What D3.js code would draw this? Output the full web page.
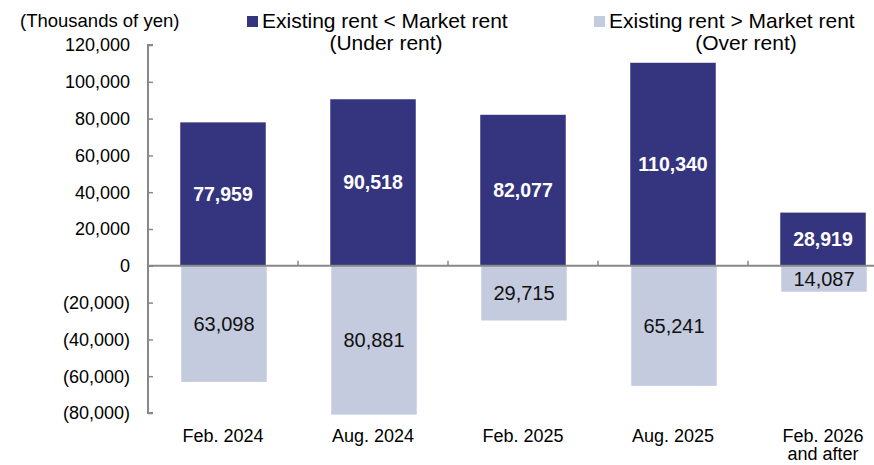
<!DOCTYPE html>
<html>
<head>
<meta charset="utf-8">
<script src="https://cdn.jsdelivr.net/npm/d3@7"></script>
<style>
  body { margin: 0; background: #fff; }
  svg { font-family: "Liberation Sans", Arial, sans-serif; display: block; }
</style>
</head>
<body>
<div id="chart"></div>
<script>
const periods = ["Feb. 2024", "Aug. 2024", "Feb. 2025", "Aug. 2025", "Feb. 2026\nand after"];
const underRent = [77959, 90518, 82077, 110340, 28919];
const overRent = [63098, 80881, 29715, 65241, 14087];
const yTicks = [120000, 100000, 80000, 60000, 40000, 20000, 0, -20000, -40000, -60000, -80000];

const width = 874, height = 465;
const margin = { top: 45, right: -24, bottom: 52, left: 148 };
const darkColor = "#35357f", lightColor = "#c4cbdf";

const svg = d3.select("#chart").append("svg")
  .attr("width", width)
  .attr("height", height);

const x = d3.scaleBand()
  .domain(periods)
  .range([margin.left, width - margin.right])
  .paddingInner(0.43)
  .paddingOuter(0.215);

const y = d3.scaleLinear()
  .domain([-80000, 120000])
  .range([height - margin.bottom, margin.top]);

const fmt = v => v < 0 ? `(${d3.format(",")(-v)})` : d3.format(",")(v);

// y axis
const yAxis = svg.append("g")
  .attr("transform", `translate(${margin.left},0)`)
  .call(d3.axisRight(y).tickValues(yTicks).tickSize(5).tickFormat(""));
yAxis.select(".domain").attr("stroke", "#888").attr("stroke-width", 2).attr("d", `M5,${y(120000)}H0V${y(-80000)}H5`);
yAxis.selectAll(".tick line").attr("stroke", "#888").attr("stroke-width", 1.5);

svg.append("g").selectAll("text")
  .data(yTicks)
  .join("text")
  .attr("x", 130)
  .attr("y", d => y(d))
  .attr("dy", "0.35em")
  .attr("text-anchor", "end")
  .attr("font-size", 18)
  .text(fmt);

// bars
const bars = svg.append("g");
bars.selectAll("rect.under")
  .data(underRent)
  .join("rect")
  .attr("class", "under")
  .attr("x", (d, i) => x(periods[i]))
  .attr("y", d => y(d))
  .attr("width", x.bandwidth())
  .attr("height", d => y(0) - y(d))
  .attr("fill", darkColor);

bars.selectAll("rect.over")
  .data(overRent)
  .join("rect")
  .attr("class", "over")
  .attr("x", (d, i) => x(periods[i]) + 1)
  .attr("y", y(0))
  .attr("width", x.bandwidth())
  .attr("height", d => y(-d) - y(0))
  .attr("fill", lightColor);

// zero line with category ticks
const zeroY = y(0);
svg.append("line")
  .attr("x1", margin.left).attr("x2", width)
  .attr("y1", zeroY).attr("y2", zeroY)
  .attr("stroke", "#888").attr("stroke-width", 2);
svg.append("g").selectAll("line")
  .data(periods.slice(1))
  .join("line")
  .attr("x1", d => x(d) - x.step() * x.paddingInner() / 2)
  .attr("x2", d => x(d) - x.step() * x.paddingInner() / 2)
  .attr("y1", zeroY).attr("y2", zeroY - 5)
  .attr("stroke", "#888").attr("stroke-width", 1.5);

// value labels
svg.append("g").selectAll("text")
  .data(underRent)
  .join("text")
  .attr("x", (d, i) => x(periods[i]) + x.bandwidth() / 2)
  .attr("y", d => (y(d) + y(0)) / 2)
  .attr("dy", "0.35em")
  .attr("text-anchor", "middle")
  .attr("fill", "#fff")
  .attr("font-weight", "bold")
  .attr("font-size", 19.5)
  .text(d3.format(","));

svg.append("g").selectAll("text")
  .data(overRent)
  .join("text")
  .attr("x", (d, i) => x(periods[i]) + x.bandwidth() / 2 + 1)
  .attr("y", d => (y(0) + y(-d)) / 2)
  .attr("dy", "0.35em")
  .attr("text-anchor", "middle")
  .attr("fill", "#111")
  .attr("font-size", 20)
  .text(d3.format(","));

// category labels
svg.append("g").selectAll("text")
  .data(periods)
  .join("text")
  .attr("x", d => x(d) + x.bandwidth() / 2)
  .attr("y", 442)
  .attr("text-anchor", "middle")
  .attr("font-size", 18)
  .each(function(d) {
    d.split("\n").forEach((line, j) => {
      d3.select(this).append("tspan")
        .attr("x", x(d) + x.bandwidth() / 2)
        .attr("dy", j === 0 ? 0 : 18)
        .text(line);
    });
  });

// unit label
svg.append("text")
  .attr("x", 20).attr("y", 27)
  .attr("font-size", 18.5)
  .text("(Thousands of yen)");

// legend
const legend = [
  { color: darkColor, lines: ["Existing rent < Market rent", "(Under rent)"], x: 247, sub: 386 },
  { color: lightColor, lines: ["Existing rent > Market rent", "(Over rent)"], x: 594, sub: 746 }
];
legend.forEach(l => {
  svg.append("rect")
    .attr("x", l.x).attr("y", 16)
    .attr("width", 11).attr("height", 11)
    .attr("fill", l.color);
  svg.append("text")
    .attr("x", l.x + 15).attr("y", 28)
    .attr("font-size", 21)
    .text(l.lines[0]);
  svg.append("text")
    .attr("x", l.sub).attr("y", 50)
    .attr("text-anchor", "middle")
    .attr("font-size", 21)
    .text(l.lines[1]);
});
</script>
</body>
</html>
